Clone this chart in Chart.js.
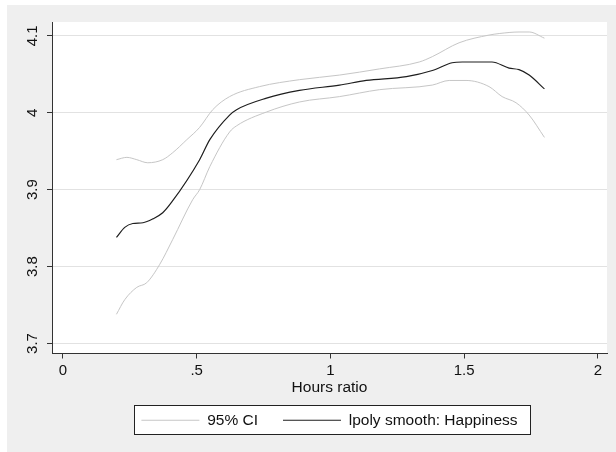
<!DOCTYPE html>
<html>
<head>
<meta charset="utf-8">
<script src="https://cdn.jsdelivr.net/npm/chart.js@4.4.1/dist/chart.umd.min.js"></script>
<style>
  html, body { margin: 0; padding: 0; background: #fff; }
  canvas { display: block; }
</style>
</head>
<body>
<canvas id="myChart" width="616" height="452"></canvas>
<script>
// lpoly fit of Happiness on Hours ratio
const xFit = [0.2, 0.231, 0.261, 0.299, 0.336, 0.373, 0.407, 0.511, 0.549, 0.623, 0.649, 0.761, 0.884, 1.034, 1.134, 1.284, 1.381, 1.455, 1.493, 1.604, 1.668, 1.705, 1.743, 1.8];
const yFit = [3.838, 3.851, 3.856, 3.857, 3.862, 3.870, 3.884, 3.939, 3.965, 3.997, 4.004, 4.019, 4.029, 4.036, 4.042, 4.047, 4.055, 4.065, 4.066, 4.066, 4.058, 4.056, 4.049, 4.031];

// upper 95% CI
const xUpper = [0.2, 0.239, 0.276, 0.317, 0.373, 0.410, 0.463, 0.511, 0.560, 0.623, 0.735, 0.884, 1.034, 1.183, 1.332, 1.381, 1.481, 1.593, 1.631, 1.705, 1.743, 1.8];
const yUpper = [3.939, 3.942, 3.939, 3.935, 3.939, 3.948, 3.965, 3.981, 4.004, 4.021, 4.034, 4.043, 4.049, 4.057, 4.066, 4.073, 4.091, 4.101, 4.103, 4.105, 4.105, 4.097];

// lower 95% CI
const xLower = [0.2, 0.231, 0.276, 0.313, 0.362, 0.410, 0.485, 0.511, 0.549, 0.623, 0.649, 0.761, 0.884, 1.034, 1.183, 1.381, 1.444, 1.507, 1.593, 1.642, 1.694, 1.743, 1.8];
const yLower = [3.738, 3.757, 3.773, 3.779, 3.803, 3.835, 3.887, 3.900, 3.930, 3.975, 3.983, 4.001, 4.014, 4.021, 4.030, 4.036, 4.042, 4.042, 4.034, 4.021, 4.013, 3.997, 3.968];

const xTicks = [0, 0.5, 1, 1.5, 2];
const xTickLabels = ['0', '.5', '1', '1.5', '2'];
const yTicks = [3.7, 3.8, 3.9, 4, 4.1];
const yTickLabels = ['3.7', '3.8', '3.9', '4', '4.1'];

const pts = (xs, ys) => xs.map((x, i) => ({x: x, y: ys[i]}));

const FONT = 'Arial, "Liberation Sans", sans-serif';
const ciColor = '#c6c6c6';
const fitColor = '#1e1e1e';
const axisColor = '#333333';

// grey page, white plot region and the framed legend
const backdrop = {
  id: 'backdrop',
  beforeDraw(chart) {
    const c = chart.ctx;
    const a = chart.chartArea;
    c.save();
    c.fillStyle = '#ffffff';
    c.fillRect(0, 0, chart.width, chart.height);
    c.fillStyle = '#efefef';
    c.fillRect(7, 5, chart.width - 7, chart.height - 5);
    c.fillStyle = '#ffffff';
    c.fillRect(a.left, a.top, a.right - a.left, a.bottom - a.top);
    const hb = chart.legend.legendHitBoxes;
    if (hb && hb.length) {
      const last = hb[hb.length - 1];
      const l = Math.round(hb[0].left - 7) + 0.5;
      const r = Math.round(last.left + last.width + 12) + 0.5;
      const t = Math.round(hb[0].top - 8) + 0.5;
      const b = Math.round(hb[0].top + 21) + 0.5;
      c.fillStyle = '#ffffff';
      c.fillRect(l, t, r - l, b - t);
      c.strokeStyle = '#222222';
      c.lineWidth = 1;
      c.strokeRect(l, t, r - l, b - t);
    }
    c.restore();
  }
};

const ctx = document.getElementById('myChart');

const data = {
  datasets: [{
    label: '95% CI',
    data: pts(xUpper, yUpper),
    borderColor: ciColor,
    backgroundColor: ciColor,
    borderWidth: 1,
    pointRadius: 0,
    cubicInterpolationMode: 'monotone'
  }, {
    label: '95% CI lower',
    data: pts(xLower, yLower),
    borderColor: ciColor,
    backgroundColor: ciColor,
    borderWidth: 1,
    pointRadius: 0,
    cubicInterpolationMode: 'monotone'
  }, {
    label: 'lpoly smooth: Happiness',
    data: pts(xFit, yFit),
    borderColor: fitColor,
    backgroundColor: fitColor,
    borderWidth: 1.2,
    pointRadius: 0,
    cubicInterpolationMode: 'monotone'
  }]
};

const config = {
  type: 'line',
  data: data,
  plugins: [backdrop],
  options: {
    responsive: false,
    animation: false,
    devicePixelRatio: 1,
    layout: { padding: { top: 22, right: 9, bottom: 14, left: 0 } },
    plugins: {
      tooltip: { enabled: false },
      legend: {
        position: 'bottom',
        fullSize: false,
        labels: {
          usePointStyle: true,
          pointStyle: 'line',
          pointStyleWidth: 58,
          padding: 25,
          color: '#111111',
          font: { family: FONT, size: 15.5 },
          filter: item => item.datasetIndex !== 1
        }
      }
    },
    scales: {
      x: {
        type: 'linear',
        min: -0.041,
        max: 2.034,
        afterBuildTicks: s => { s.ticks = xTicks.map(v => ({value: v})); },
        afterFit: s => { s.height = 34; },
        grid: { drawOnChartArea: false, drawTicks: true, tickLength: 5, tickColor: axisColor },
        border: { display: true, color: axisColor, width: 1 },
        ticks: {
          padding: 3,
          color: '#111111',
          font: { family: FONT, size: 15 },
          maxRotation: 0,
          callback: (v, i) => xTickLabels[i]
        },
        title: {
          display: true,
          text: 'Hours ratio',
          color: '#111111',
          font: { family: FONT, size: 15.5 },
          padding: { top: 0, bottom: -10 }
        }
      },
      y: {
        type: 'linear',
        min: 3.687,
        max: 4.118,
        afterBuildTicks: s => { s.ticks = yTicks.map(v => ({value: v})); },
        afterFit: s => { s.width = 52; },
        grid: { color: '#e2e2e2', lineWidth: 1, drawTicks: true, tickLength: 5, tickColor: axisColor },
        border: { display: true, color: axisColor, width: 1 },
        ticks: {
          padding: 4,
          minRotation: 90,
          maxRotation: 90,
          crossAlign: 'center',
          color: '#111111',
          font: { family: FONT, size: 15 },
          callback: (v, i) => yTickLabels[i]
        }
      }
    }
  }
};

const myChart = new Chart(ctx, config);
</script>
</body>
</html>
